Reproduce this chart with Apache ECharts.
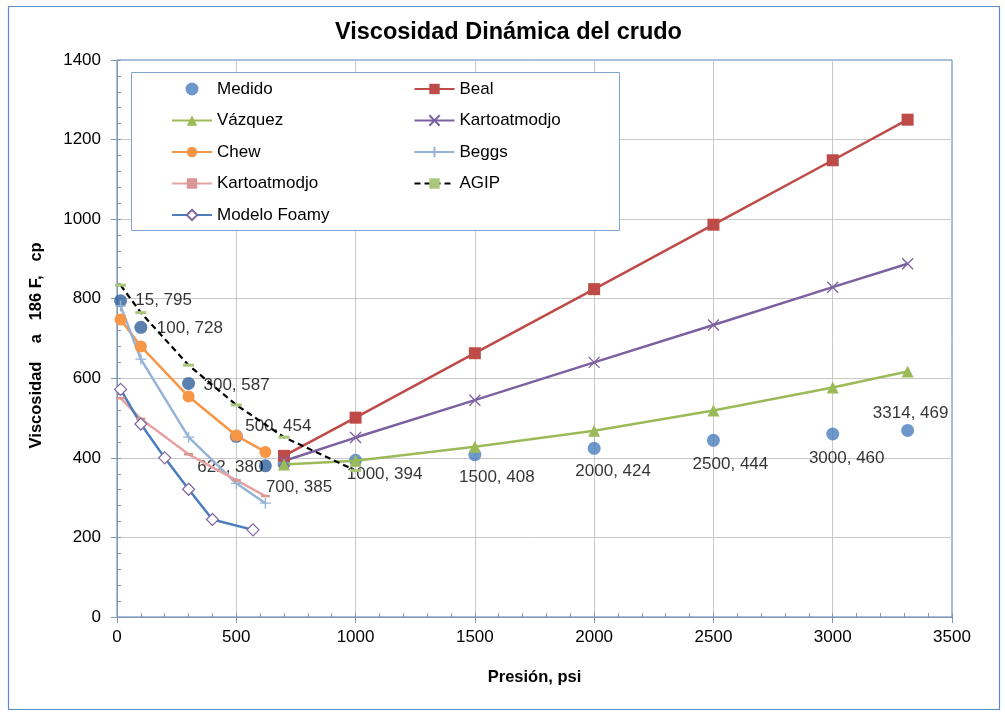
<!DOCTYPE html>
<html>
<head>
<meta charset="utf-8">
<script src="https://cdn.jsdelivr.net/npm/echarts@6/dist/echarts.min.js"></script>
<style>
  html, body { margin: 0; padding: 0; background: #fff; }
  #chart { width: 1005px; height: 712px; }
</style>
</head>
<body>
<div id="chart"></div>
<script>
// Presión (psi) y viscosidad dinámica (cp) medida y por correlación
const medidoP = [15, 100, 300, 500, 622, 700, 1000, 1500, 2000, 2500, 3000, 3314];
const medidoV = [795, 728, 587, 454, 380, 385, 394, 408, 424, 444, 460, 469];

const bealP = [700, 1000, 1500, 2000, 2500, 3000, 3314];
const bealV = [405, 501, 663, 824, 986, 1148, 1250];

const vazquezP = [700, 1000, 1500, 2000, 2500, 3000, 3314];
const vazquezV = [383, 393, 428, 468, 519, 577, 617];

const kartoSatP = [700, 1000, 1500, 2000, 2500, 3000, 3314];
const kartoSatV = [392, 451, 545, 640, 734, 829, 888];

const chewP = [15, 100, 300, 500, 622];
const chewV = [748, 680, 554, 456, 415];

const beggsP = [15, 100, 300, 500, 622];
const beggsV = [782, 648, 452, 336, 286];

const kartoBajoP = [15, 100, 300, 500, 622];
const kartoBajoV = [550, 498, 409, 344, 304];

const foamyP = [15, 100, 200, 300, 400, 570];
const foamyV = [572, 485, 400, 321, 245, 219];

const agipP = [15, 100, 300, 500, 700, 1000];
const agipV = [834, 765, 633, 533, 452, 368];

// Desplazamiento [dx, dy] de cada etiqueta "p, µ" respecto a su punto
const medidoLabelShift = [[43, 0], [49, 1], [48, 2], [42, -10], [-35, 1], [15, 23],
                          [29, 14], [22, 23], [19, 23], [17, 24], [14, 24], [3, -17]];

const FONT = '"Liberation Sans", Arial, sans-serif';
const AXIS_COLOR = '#8497B0';
const zip = (xs, ys) => xs.map((x, i) => [x, ys[i]]);

// Marcadores de trazo (aspa, cruz)
const SYM_X = 'path://M0,0L10,10M10,0L0,10';
const SYM_PLUS = 'path://M5,0L5,10M0,5L10,5';

const KARTO_BAJO = 'Kartoatmodjo\u00a0';

const chart = echarts.init(document.getElementById('chart'), null, { renderer: 'canvas' });

function lineSeries(name, data, color, symbol, size, extra) {
  return Object.assign({
    name: name,
    type: 'line',
    data: data,
    symbol: symbol,
    symbolSize: size,
    showSymbol: true,
    showAllSymbol: true,
    lineStyle: { color: color, width: 2.5 },
    itemStyle: { color: color },
    emphasis: { disabled: true }
  }, extra || {});
}

const plain = (v) => String(v);

const axisMain = {
  type: 'value',
  nameLocation: 'middle',
  axisLine: { show: true, onZero: false, lineStyle: { color: AXIS_COLOR, width: 1 } },
  axisTick: { show: true, length: 6, lineStyle: { color: AXIS_COLOR } },
  axisLabel: { fontSize: 17, color: '#000', fontFamily: FONT, formatter: plain },
  splitLine: { show: true, showMaxLine: false, lineStyle: { color: '#C8C8C8', width: 1 } }
};

// Ejes auxiliares: solo las marcas secundarias hacia dentro
const axisMinor = {
  type: 'value',
  axisLine: { show: false },
  axisTick: { show: true, inside: true, length: 4, lineStyle: { color: AXIS_COLOR } },
  axisLabel: { show: false },
  splitLine: { show: false }
};

const option = {
  animation: false,
  backgroundColor: '#fff',
  title: {
    text: 'Viscosidad Dinámica del crudo',
    left: 335,
    top: 21,
    padding: 0,
    textStyle: { fontSize: 23.5, fontWeight: 'bold', color: '#000', fontFamily: FONT }
  },
  grid: {
    left: 117, right: 53, top: 60, bottom: 95,
    show: true, borderColor: '#4F81BD', borderWidth: 1,
    backgroundColor: 'transparent',
    outerBoundsMode: 'none'
  },
  xAxis: [
    Object.assign({}, axisMain, {
      min: 0, max: 3500, interval: 500,
      name: 'Presión, psi', nameGap: 52,
      nameTextStyle: { fontSize: 16.5, fontWeight: 'bold', color: '#000', fontFamily: FONT },
      axisLabel: Object.assign({}, axisMain.axisLabel, { margin: 12 })
    }),
    Object.assign({}, axisMinor, { min: 0, max: 3500, interval: 100, position: 'bottom' })
  ],
  yAxis: [
    Object.assign({}, axisMain, {
      min: 0, max: 1400, interval: 200,
      name: 'Viscosidad    a   186 F,   cp   ', nameGap: 72,
      nameTextStyle: { fontSize: 16.5, fontWeight: 'bold', color: '#000', fontFamily: FONT },
      axisLabel: Object.assign({}, axisMain.axisLabel, { margin: 16 })
    }),
    Object.assign({}, axisMinor, { min: 0, max: 1400, interval: 40, position: 'left' })
  ],
  legend: {
    orient: 'vertical', left: 171, top: 80, height: 150, padding: 0,
    itemWidth: 40, itemHeight: 13, itemGap: 13.5,
    selectedMode: false, z: 5,
    textStyle: { fontSize: 17, color: '#000', fontFamily: FONT, lineHeight: 18, width: 183 },
    data: ['Medido', 'Vázquez', 'Chew', KARTO_BAJO, 'Modelo Foamy',
           'Beal', 'Kartoatmodjo', 'Beggs', 'AGIP']
  },
  graphic: [
    {
      type: 'rect', z: 3, silent: true,
      shape: { x: 131.5, y: 72.5, width: 488, height: 158 },
      style: { fill: '#fff', stroke: '#7FA3D1', lineWidth: 1 }
    },
    {
      type: 'rect', z: 0, silent: true,
      shape: { x: 8.5, y: 6.5, width: 991, height: 703 },
      style: { fill: 'none', stroke: '#5B8BC9', lineWidth: 1.2 }
    }
  ],
  series: [
    lineSeries('Beal', zip(bealP, bealV), '#BE4B48', 'rect', 12),
    lineSeries('Kartoatmodjo', zip(kartoSatP, kartoSatV), '#7D60A0', SYM_X, 11, {
      itemStyle: { color: '#7D60A0', borderColor: '#7D60A0', borderWidth: 1.3 }
    }),
    lineSeries('Vázquez', zip(vazquezP, vazquezV), '#9BBB59', 'triangle', 12),
    lineSeries('Chew', zip(chewP, chewV), '#F79646', 'circle', 12),
    lineSeries('Beggs', zip(beggsP, beggsV), '#95B3D7', SYM_PLUS, 11, {
      itemStyle: { color: '#95B3D7', borderColor: '#95B3D7', borderWidth: 1.3 }
    }),
    lineSeries(KARTO_BAJO, zip(kartoBajoP, kartoBajoV), '#E6A3A1', 'rect', [9, 2.5], {
      itemStyle: { color: '#D99694' }
    }),
    lineSeries('Modelo Foamy', zip(foamyP, foamyV), '#4A7EBB', 'diamond', 12, {
      itemStyle: { color: '#fff', borderColor: '#8064A2', borderWidth: 1.2 }
    }),
    lineSeries('AGIP', zip(agipP, agipV), '#000', 'rect', [11, 3], {
      lineStyle: { color: '#000', width: 2.2, type: [6, 4] },
      itemStyle: { color: '#A9C77A' }
    }),
    {
      name: 'Medido',
      type: 'scatter',
      symbol: 'circle',
      symbolSize: 13,
      itemStyle: { color: '#4A7EBD' },
      emphasis: { disabled: true },
      data: medidoP.map((p, i) => ({
        value: [p, medidoV[i]],
        itemStyle: p < 700 ? { color: '#2F609B' } : undefined
      })),
      label: {
        show: true,
        position: 'inside',
        align: 'center',
        verticalAlign: 'middle',
        fontSize: 17,
        color: '#000',
        fontFamily: FONT,
        formatter: (p) => p.value[0] + ', ' + p.value[1]
      },
      labelLayout: (params) => ({
        dx: medidoLabelShift[params.dataIndex][0],
        dy: medidoLabelShift[params.dataIndex][1],
        hideOverlap: false
      })
    }
  ]
};

chart.setOption(option);
</script>
</body>
</html>
